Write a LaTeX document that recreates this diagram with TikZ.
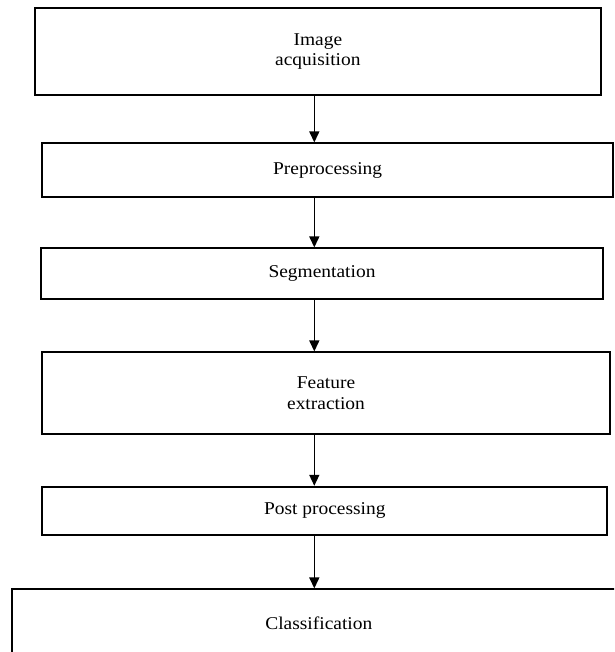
\documentclass[tikz,border=0pt]{standalone}
\usepackage{fontspec}
\setmainfont{Liberation Serif}[FakeStretch=1.08]
\usetikzlibrary{arrows.meta}
\begin{document}
\begin{tikzpicture}[x=1pt,y=-1pt,
  flowbox/.style={draw=black, line width=1.8pt, inner sep=0pt, align=center,
    font=\fontsize{18}{20.5}\selectfont},
  flowarrow/.style={line width=1.5pt, -{Triangle[length=11pt,width=10pt]}}]
\useasboundingbox (0,0) rectangle (614,652);
\clip (0,0) rectangle (614,652);
\coordinate (ax) at (314.3,0);
\node[flowbox, minimum width=565.7pt, minimum height=86.7pt] (b1) at (317.85,51.65) {Image\\acquisition};
\node[flowbox, minimum width=570.7pt, minimum height=53.4pt] (b2) at (327.65,170) {Preprocessing};
\node[flowbox, minimum width=562.6pt, minimum height=51pt] (b3) at (322,273.8) {Segmentation};
\node[flowbox, minimum width=567.4pt, minimum height=81.7pt] (b4) at (326,393.15) {Feature\\extraction};
\node[flowbox, minimum width=565pt, minimum height=48.3pt] (b5) at (324.8,510.85) {Post processing};
\node[flowbox, minimum width=613pt, minimum height=67.4pt] (b6) at (318.8,623) {Classification};
\draw[flowarrow] (b1.south -| ax) -- (b2.north -| ax);
\draw[flowarrow] (b2.south -| ax) -- (b3.north -| ax);
\draw[flowarrow] (b3.south -| ax) -- (b4.north -| ax);
\draw[flowarrow] (b4.south -| ax) -- (b5.north -| ax);
\draw[flowarrow] (b5.south -| ax) -- (b6.north -| ax);
\end{tikzpicture}
\end{document}
